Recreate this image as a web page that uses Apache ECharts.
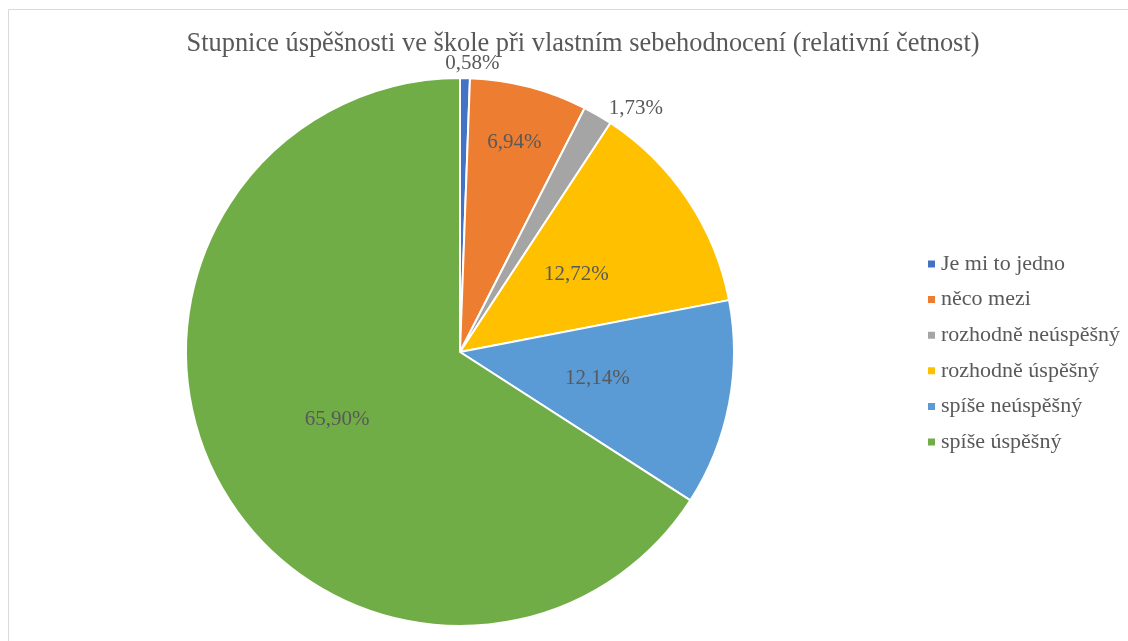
<!DOCTYPE html>
<html>
<head>
<meta charset="utf-8">
<script src="https://cdn.jsdelivr.net/npm/echarts@6/dist/echarts.min.js"></script>
<style>
  html, body { margin: 0; padding: 0; background: #fff; }
  #main { width: 1128px; height: 641px; }
</style>
</head>
<body>
<div id="main"></div>
<script>
var titleText = 'Stupnice úspěšnosti ve škole při vlastním sebehodnocení (relativní četnost)';
var categories = ['Je mi to jedno', 'něco mezi', 'rozhodně neúspěšný', 'rozhodně úspěšný', 'spíše neúspěšný', 'spíše úspěšný'];
var values = [0.58, 6.94, 1.73, 12.72, 12.14, 65.90];
var colors = ['#4472C4', '#ED7D31', '#A5A5A5', '#FFC000', '#5B9BD5', '#70AD47'];

// which label goes where (Excel "best fit")
var mainLabel = ['none', 'none', 'outside', 'inside', 'inside', 'inside'];
var outerRingLabel = [true, false, false, false, false, false];
var midRingLabel = [false, true, false, false, false, false];

var font = '"Liberation Serif", "Times New Roman", serif';
var textColor = '#595959';

function fmt(v) {
  return v.toFixed(2).replace('.', ',') + '%';
}

var chart = echarts.init(document.getElementById('main'));

var mainData = categories.map(function (name, i) {
  var pos = mainLabel[i];
  return {
    name: name,
    value: values[i],
    itemStyle: { color: colors[i] },
    label: { show: pos !== 'none', position: pos === 'none' ? 'inside' : pos }
  };
});

function overlayData(flags) {
  return categories.map(function (name, i) {
    return {
      name: name,
      value: values[i],
      label: { show: flags[i] }
    };
  });
}

var labelStyle = {
  fontFamily: font,
  fontSize: 21,
  color: textColor,
  formatter: function (p) { return fmt(p.value); }
};

var option = {
  animation: false,
  color: colors,
  graphic: [{
    type: 'rect',
    shape: { x: 8.5, y: 9.5, width: 1300, height: 800 },
    style: { fill: 'none', stroke: '#d9d9d9', lineWidth: 1 },
    silent: true,
    z: -1
  }],
  title: {
    text: titleText,
    left: 578,
    textAlign: 'center',
    top: 26,
    textStyle: {
      fontFamily: font,
      fontSize: 26.4,
      fontWeight: 'normal',
      color: textColor
    }
  },
  legend: {
    orient: 'vertical',
    left: 921,
    top: 248,
    itemWidth: 9,
    itemHeight: 9,
    itemGap: 13.6,
    icon: 'rect',
    data: categories,
    textStyle: {
      fontFamily: font,
      fontSize: 22,
      color: textColor,
      lineHeight: 22
    }
  },
  series: [{
    type: 'pie',
    center: [460, 352],
    radius: [0, 274],
    startAngle: 90,
    clockwise: true,
    silent: true,
    itemStyle: { borderColor: '#ffffff', borderWidth: 2 },
    label: labelStyle,
    labelLine: { show: false, length: 8, length2: 2 },
    data: mainData
  }, {
    type: 'pie',
    center: [460, 352],
    radius: [152, 274],
    startAngle: 90,
    silent: true,
    itemStyle: { color: 'rgba(0,0,0,0)' },
    label: Object.assign({ position: 'inside' }, labelStyle),
    labelLine: { show: false },
    data: overlayData(midRingLabel),
    z: 3
  }, {
    type: 'pie',
    center: [460, 352],
    radius: [274, 298],
    startAngle: 88.6,
    silent: true,
    itemStyle: { color: 'rgba(0,0,0,0)' },
    label: Object.assign({ position: 'inside' }, labelStyle),
    labelLine: { show: false },
    data: overlayData(outerRingLabel),
    z: 3
  }]
};

chart.setOption(option);
</script>
</body>
</html>
